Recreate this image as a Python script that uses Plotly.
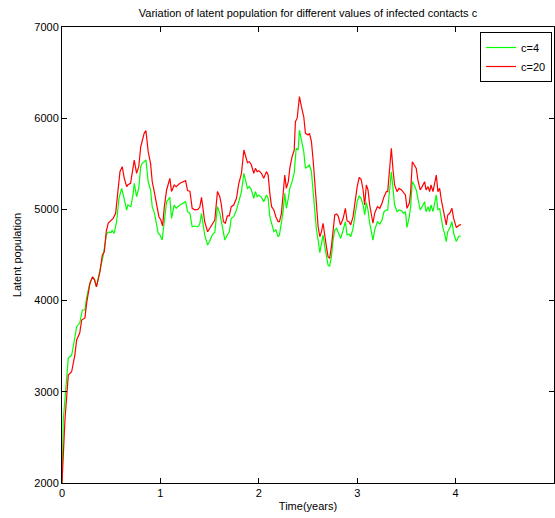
import plotly.graph_objects as go

# c=20 (red)
t_c20 = [0, 0.03, 0.064, 0.098, 0.13, 0.149, 0.18, 0.2, 0.233, 0.25, 0.284, 0.31, 0.33, 0.35, 0.386, 0.41, 0.43,
         0.45, 0.47, 0.5, 0.52, 0.545, 0.565, 0.589, 0.612, 0.633, 0.657, 0.67, 0.697, 0.717, 0.734, 0.758, 0.78,
         0.8, 0.815, 0.835, 0.853, 0.876, 0.9, 0.917, 0.934, 0.96, 0.985, 1.005, 1.022, 1.04, 1.063, 1.096, 1.113,
         1.14, 1.16, 1.198, 1.23, 1.256, 1.276, 1.3, 1.323, 1.35, 1.38, 1.4, 1.418, 1.435, 1.45, 1.48, 1.5, 1.527,
         1.553, 1.58, 1.604, 1.62, 1.64, 1.66, 1.68, 1.7, 1.72, 1.745, 1.773, 1.797, 1.824, 1.848, 1.868, 1.885,
         1.905, 1.925, 1.949, 1.966, 1.983, 2.0, 2.027, 2.05, 2.078, 2.095, 2.112, 2.13, 2.153, 2.173, 2.196, 2.21,
         2.23, 2.247, 2.264, 2.28, 2.3, 2.315, 2.338, 2.36, 2.372, 2.39, 2.413, 2.433, 2.457, 2.474, 2.5, 2.515,
         2.535, 2.552, 2.57, 2.586, 2.603, 2.62, 2.637, 2.653, 2.67, 2.687, 2.704, 2.72, 2.738, 2.755, 2.772, 2.79,
         2.806, 2.83, 2.857, 2.88, 2.897, 2.917, 2.934, 2.958, 2.98, 3.0, 3.02, 3.04, 3.06, 3.076, 3.093, 3.11,
         3.127, 3.14, 3.16, 3.178, 3.205, 3.23, 3.252, 3.273, 3.296, 3.31, 3.33, 3.347, 3.364, 3.38, 3.405, 3.425,
         3.45, 3.472, 3.49, 3.506, 3.53, 3.543, 3.56, 3.58, 3.6, 3.617, 3.64, 3.66, 3.685, 3.7, 3.72, 3.736, 3.75,
         3.77, 3.787, 3.804, 3.82, 3.838, 3.855, 3.872, 3.888, 3.905, 3.92, 3.94, 3.963, 3.98, 4.007, 4.024, 4.04,
         4.056]
lat_c20 = [2000, 2690, 3184, 3220, 3400, 3568, 3645, 3787, 3810, 3970, 4190, 4260, 4230, 4150, 4317, 4500, 4536,
           4760, 4850, 4880, 4902, 4957, 5158, 5413, 5468, 5341, 5250, 5270, 5286, 5413, 5541, 5396, 5468,
           5687, 5760, 5834, 5863, 5633, 5505, 5303, 5213, 5048, 4920, 4884, 4818, 5030, 5213, 5341, 5197,
           5268, 5250, 5286, 5305, 5315, 5206, 5200, 5012, 4995, 5000, 5023, 5133, 5010, 4865, 4755, 4790, 4848,
           4884, 5197, 5140, 5048, 4865, 4848, 4928, 4928, 5030, 5048, 5122, 5286, 5396, 5651, 5578, 5512,
           5523, 5487, 5396, 5450, 5414, 5425, 5396, 5341, 5414, 5378, 5176, 5030, 4993, 4920, 4865, 4865,
           4957, 5140, 5377, 5231, 5304, 5450, 5578, 5650, 5962, 6000, 6236, 6126, 6016, 5834, 5815, 5834,
           5743, 5541, 5249, 4993, 4810, 4700, 4756, 4848, 4700, 4591, 4481, 4463, 4591, 4774, 4939, 4950,
           4930, 4830, 4900, 5012, 4875, 4865, 4830, 4920, 5103, 5249, 5352, 5330, 5213, 5048, 5268, 5213,
           5048, 4957, 4848, 4960, 5030, 5012, 5067, 5140, 5195, 5195, 5468, 5670, 5432, 5268, 5195, 5231,
           5213, 5176, 5158, 5012, 5067, 5195, 5523, 5487, 5450, 5322, 5213, 5250, 5304, 5213, 5250, 5195, 5268,
           5195, 5286, 5377, 5195, 5231, 5103, 4993, 4920, 4830, 4939, 4957, 5012, 4902, 4803, 4815, 4830,
           4830]

# c=4 (green)
t_c4 = [0, 0.013, 0.064, 0.098, 0.13, 0.149, 0.18, 0.207, 0.233, 0.25, 0.278, 0.31, 0.33, 0.35, 0.386, 0.42,
        0.45, 0.47, 0.5, 0.51, 0.53, 0.555, 0.579, 0.606, 0.623, 0.64, 0.657, 0.67, 0.7, 0.724, 0.734, 0.758, 0.78,
        0.8, 0.815, 0.835, 0.853, 0.876, 0.9, 0.917, 0.94, 0.978, 0.995, 1.018, 1.04, 1.063, 1.096, 1.113, 1.14,
        1.16, 1.198, 1.23, 1.256, 1.276, 1.3, 1.323, 1.35, 1.38, 1.4, 1.418, 1.435, 1.45, 1.48, 1.5, 1.527, 1.553,
        1.58, 1.604, 1.62, 1.64, 1.655, 1.68, 1.7, 1.72, 1.745, 1.773, 1.797, 1.824, 1.848, 1.868, 1.885, 1.905,
        1.925, 1.949, 1.966, 1.983, 2.0, 2.027, 2.05, 2.078, 2.095, 2.112, 2.13, 2.153, 2.173, 2.196, 2.21, 2.23,
        2.247, 2.264, 2.28, 2.3, 2.315, 2.338, 2.36, 2.38, 2.4, 2.413, 2.433, 2.457, 2.474, 2.49, 2.515, 2.535,
        2.552, 2.57, 2.586, 2.603, 2.62, 2.637, 2.653, 2.67, 2.687, 2.704, 2.72, 2.738, 2.755, 2.772, 2.79, 2.806,
        2.832, 2.857, 2.88, 2.897, 2.917, 2.934, 2.958, 2.98, 3.0, 3.02, 3.04, 3.06, 3.076, 3.093, 3.11, 3.127,
        3.14, 3.16, 3.178, 3.205, 3.23, 3.252, 3.273, 3.296, 3.31, 3.33, 3.347, 3.364, 3.38, 3.405, 3.425, 3.45,
        3.472, 3.49, 3.506, 3.53, 3.543, 3.56, 3.58, 3.6, 3.617, 3.64, 3.66, 3.685, 3.7, 3.72, 3.736, 3.75, 3.77,
        3.787, 3.804, 3.82, 3.838, 3.855, 3.872, 3.888, 3.905, 3.92, 3.94, 3.963, 3.98, 4.007, 4.03, 4.05]
lat_c4 = [2000, 2690, 3370, 3400, 3590, 3714, 3754, 3897, 3897, 4030, 4170, 4260, 4230, 4150, 4335, 4500,
          4720, 4750, 4748, 4770, 4738, 4865, 5122, 5231, 5158, 5067, 4993, 5048, 5030, 5176, 5286, 5140, 5231,
          5468, 5505, 5523, 5541, 5303, 5213, 5030, 4957, 4738, 4720, 4664, 4848, 5085, 5133, 4902, 5048,
          5012, 5048, 5070, 5085, 4975, 4957, 4810, 4818, 4810, 4840, 4957, 4810, 4720, 4610, 4647, 4720, 4750,
          5030, 4957, 4865, 4720, 4664, 4720, 4755, 4902, 4920, 4993, 5103, 5195, 5396, 5304, 5231, 5250,
          5213, 5122, 5195, 5140, 5158, 5133, 5085, 5158, 5122, 4920, 4848, 4755, 4775, 4700, 4720, 4848,
          4975, 5176, 5012, 5122, 5231, 5304, 5400, 5670, 5651, 5870, 5760, 5633, 5450, 5468, 5487, 5413,
          5213, 4993, 4774, 4664, 4525, 4628, 4720, 4591, 4481, 4390, 4380, 4481, 4664, 4774, 4792, 4756,
          4683, 4774, 4865, 4720, 4730, 4700, 4792, 4957, 5085, 5147, 5122, 5048, 4939, 5075, 4993, 4848,
          4774, 4664, 4774, 4865, 4840, 4884, 4975, 4993, 4993, 5249, 5413, 5231, 5048, 4975, 4993, 4985,
          4957, 4975, 4803, 4920, 5030, 5304, 5268, 5213, 5103, 4993, 5030, 5085, 4975, 5030, 4975, 5048, 4975,
          5085, 5158, 4993, 5012, 4902, 4792, 4738, 4647, 4756, 4792, 4865, 4738, 4647, 4700, 4710]

x_ticks = [0, 1, 2, 3, 4, 5]
x_labels = ["0", "1", "2", "3", "4", ""]
y_ticks = [2000, 3000, 4000, 5000, 6000, 7000]

font_family = "Liberation Sans, Arial, sans-serif"

fig = go.Figure()
fig.add_trace(go.Scatter(x=t_c4, y=lat_c4, mode="lines", name="c=4",
                         line=dict(color="#00ff00", width=1.2)))
fig.add_trace(go.Scatter(x=t_c20, y=lat_c20, mode="lines", name="c=20",
                         line=dict(color="#ff0000", width=1.2)))

axis_common = dict(showgrid=False, zeroline=False, showline=True, linecolor="black", linewidth=1,
                   mirror="ticks", ticks="inside", ticklen=5, tickcolor="black", tickwidth=1,
                   tickfont=dict(family=font_family, size=11, color="black"))

fig.update_layout(
    width=555, height=518,
    margin=dict(l=62, r=1, t=27, b=35),
    paper_bgcolor="white", plot_bgcolor="white",
    font=dict(family=font_family, size=11, color="black"),
    title=dict(text="Variation of latent population for different values of infected contacts c",
               x=(62 + 554) / 2 / 555, xanchor="center", y=1 - 13 / 518, yanchor="middle",
               font=dict(family=font_family, size=11, color="black")),
    xaxis=dict(range=[0, 5], tickvals=x_ticks, ticktext=x_labels,
               title=dict(text="Time(years)", standoff=4,
                          font=dict(family=font_family, size=11, color="black")),
               **axis_common),
    yaxis=dict(range=[2000, 7000], tickvals=y_ticks,
               title=dict(text="Latent population", standoff=10,
                          font=dict(family=font_family, size=11, color="black")),
               **axis_common),
    legend=dict(x=0.996, xanchor="right", y=0.989, yanchor="top",
                bgcolor="white", bordercolor="black", borderwidth=1,
                font=dict(family=font_family, size=11, color="black"),
                tracegroupgap=0, itemwidth=30),
    showlegend=True,
)

fig.write_html("out.html")
